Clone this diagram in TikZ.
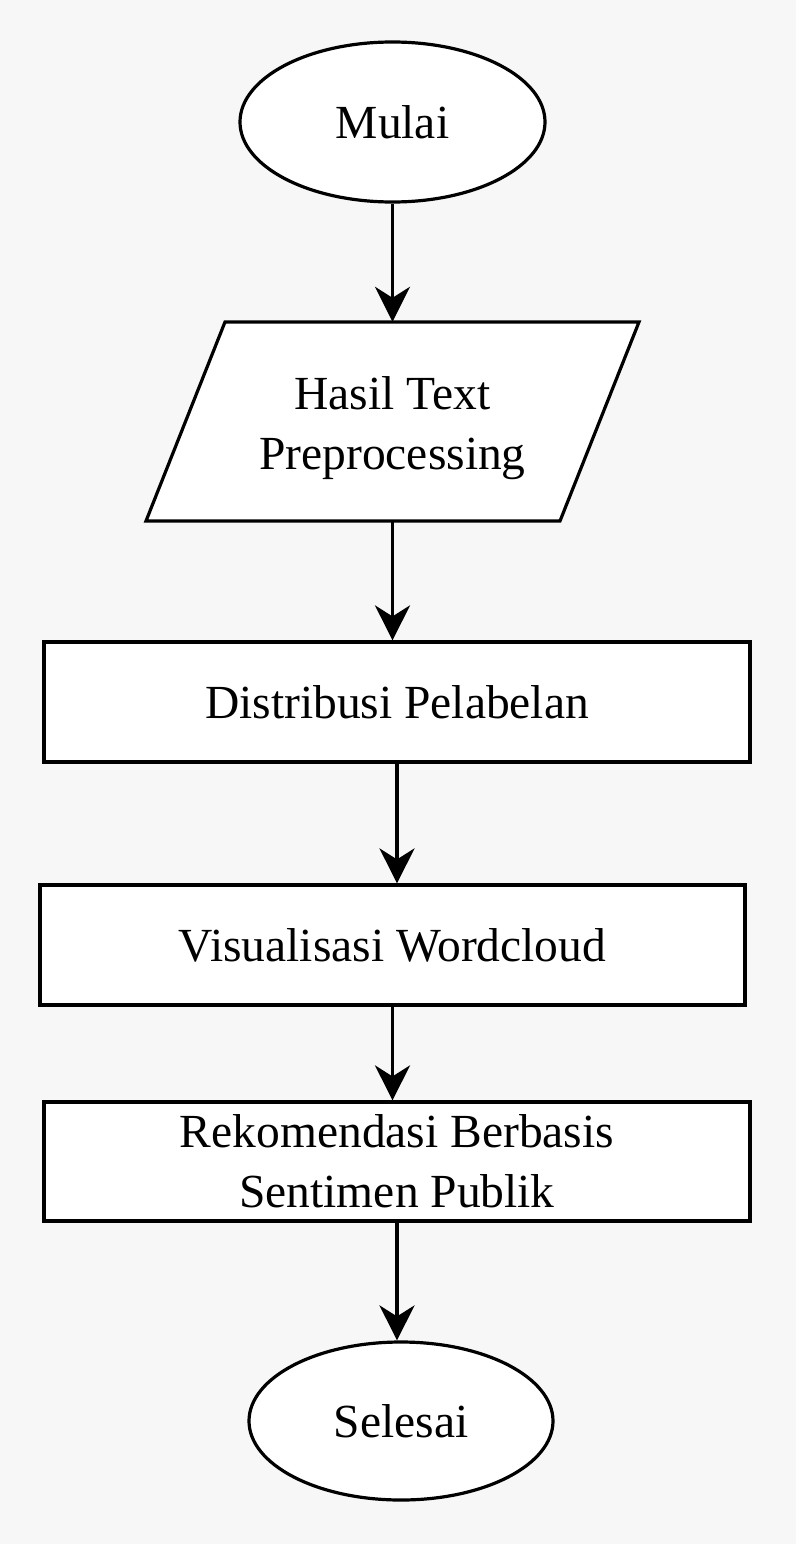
\documentclass[tikz,border=0pt]{standalone}
\usepackage{fontspec}
\setmainfont{Liberation Serif}
\usetikzlibrary{shapes.geometric,arrows.meta}
\definecolor{bgc}{HTML}{F7F7F7}
\begin{document}
\begin{tikzpicture}[x=1pt,y=-1pt,
  every node/.style={font=\fontsize{47.5}{60}\selectfont, inner sep=0pt, align=center},
  term/.style={ellipse, draw, line width=3.2pt, fill=white},
  proc/.style={rectangle, draw, line width=3.2pt, fill=white},
  arr/.style={line width=3.2pt, -{Stealth[length=35pt,width=35pt,inset=11pt]}}]
\fill[bgc] (0,0) rectangle (796,1544);
\useasboundingbox (0,0) rectangle (796,1544);
% Start
\node[term, minimum width=305pt, minimum height=160pt] (start) at (392.5,122) {Mulai};
% Input parallelogram
\draw[line width=3.2pt, fill=white, line join=miter] (225,322) -- (639,322) -- (560,521) -- (146,521) -- cycle;
\node[minimum width=300pt, minimum height=199pt] (io) at (392.5,421.5) {};
\node (iotext) at (392.5,428) {Hasil Text\\Preprocessing};
% Processes
\node[proc, minimum width=706pt, minimum height=120pt] (dist) at (397,702) {Distribusi Pelabelan};
\node[proc, minimum width=705pt, minimum height=120pt] (vis) at (392.5,945) {Visualisasi Wordcloud};
\node[proc, minimum width=706pt, minimum height=119pt] (rek) at (397,1161.5) {Rekomendasi Berbasis\\Sentimen Publik};
% End
\node[term, minimum width=304pt, minimum height=158pt] (end) at (401,1421) {Selesai};
% Connectors
\draw[arr] (start.south) -- (start.south |- io.north);
\draw[arr] (io.south) -- (io.south |- dist.north);
\draw[arr] (dist.south) -- (dist.south |- vis.north);
\draw[arr] (vis.south) -- (vis.south |- rek.north);
\draw[arr] (rek.south) -- (rek.south |- end.north);
\end{tikzpicture}
\end{document}
